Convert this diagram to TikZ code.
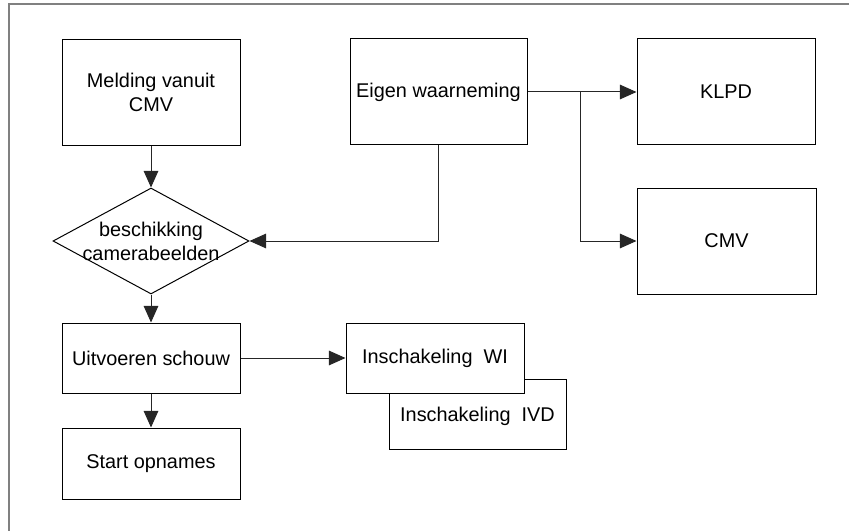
\documentclass[tikz,border=0pt]{standalone}
\usepackage{fontspec}
\setmainfont{Liberation Sans}
\usetikzlibrary{shapes.geometric,arrows.meta}
\begin{document}
\begin{tikzpicture}[x=0.75pt,y=-0.75pt,
  box/.style={draw=black,line width=0.75pt,rectangle,inner sep=0pt,align=center,
    font=\fontsize{14.9}{18}\selectfont},
  decision/.style={draw=black,line width=0.75pt,diamond,inner sep=0pt,
    minimum width=147pt,minimum height=79.5pt},
  lbl/.style={inner sep=0pt,align=center,font=\fontsize{14.9}{18}\selectfont},
  conn/.style={draw=black!85,line width=0.75pt,-{Triangle[length=12.5pt,width=11pt]}},
  frameline/.style={draw=black!50,line width=1.5pt}]
\useasboundingbox (0,0) rectangle (849,531);
% frame (top and left only)
\coordinate (ftl) at (9,4);
\coordinate (ftr) at (849,4);
\coordinate (fbl) at (9,531);
\draw[frameline] (ftr) -- (ftl) -- (fbl);
% nodes
\node[box,minimum width=133.5pt,minimum height=79.5pt] (mel) at (151,92.5) {Melding vanuit\\CMV};
\node[decision] (dia) at (151,241) {};
\node[lbl] (diatext) at (151,241) {beschikking\\camerabeelden};
\node[box,minimum width=132.75pt,minimum height=79.5pt] (eig) at (438.5,92) {Eigen waarneming};
\node[box,minimum width=133.5pt,minimum height=79.5pt] (klpd) at (726,92) {KLPD};
\node[box,minimum width=134.25pt,minimum height=79.5pt] (cmv) at (726.5,241) {CMV};
\node[box,minimum width=133.5pt,minimum height=52.5pt] (uit) at (151,358) {Uitvoeren schouw};
\node[box,minimum width=133.5pt,minimum height=53.25pt] (start) at (151,463.5) {Start opnames};
\node[box,minimum width=132.75pt,minimum height=52.5pt] (ivd) at (477.5,414) {};
\node[lbl] (ivdtext) at (477.5,416) {Inschakeling\ \ IVD};
\node[box,fill=white,minimum width=133.5pt,minimum height=52.5pt] (wi) at (435,358) {Inschakeling\ \ WI};
% connectors
\draw[conn] (mel.south) -- (dia.north);
\draw[conn] (eig.south) -- (eig.south |- dia.east) -- (dia.east);
\draw[conn] (eig.east) -- (klpd.west);
\coordinate (br) at (580,92);
\draw[conn] (br) -- (br |- cmv.west) -- (cmv.west);
\draw[conn] (dia.south) -- (uit.north);
\draw[conn] (uit.south) -- (start.north);
\draw[conn] (uit.east) -- (wi.west);
\end{tikzpicture}
\end{document}
